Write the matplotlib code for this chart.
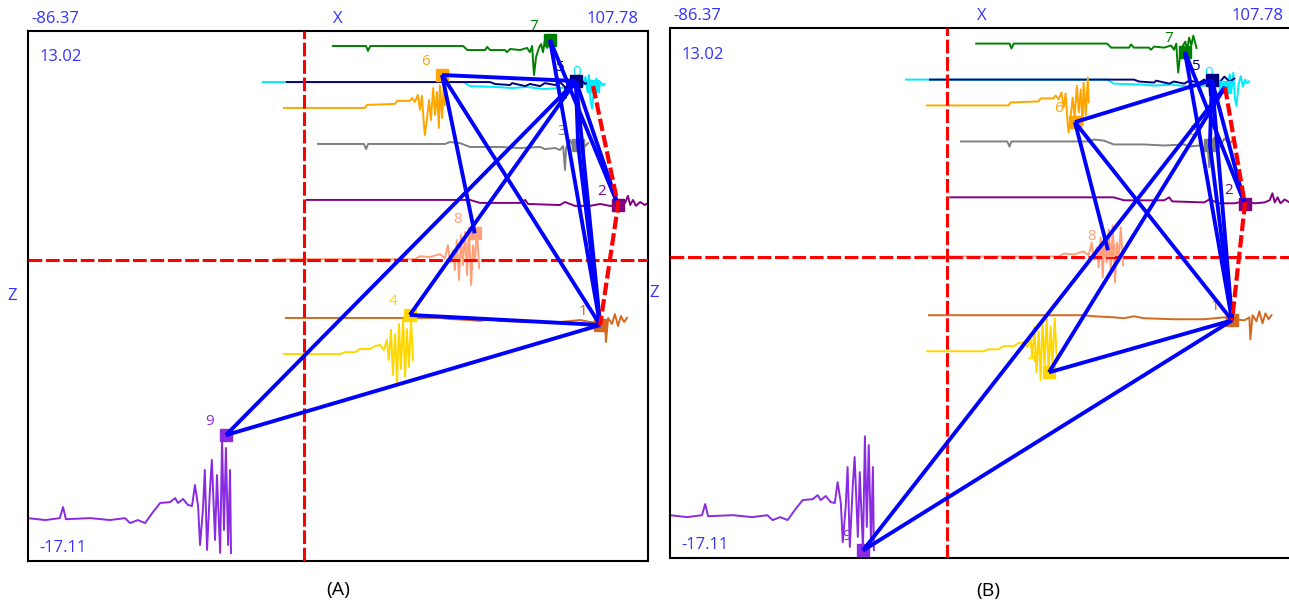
import numpy as np
import matplotlib
matplotlib.use('Agg')
import matplotlib.pyplot as plt

plt.rcParams['font.family'] = ['Open Sans', 'DejaVu Sans']

# axis limits shown as corner labels
X_MIN, X_MAX = -86.37, 107.78
Z_MIN, Z_MAX = -17.11, 13.02

# body colours, index = body id
colors = ['#00eaff', '#d2691e', '#800080', '#808080', '#ffd700',
          '#000080', '#ffa500', '#008000', '#ffa07a', '#8a2be2']

# trajectories (x, z)
t0_x = [-12.8, 50.0, 52.0, 60.0, 65.0, 70.0, 75.0, 80.0, 84.0, 87.5, 88.2, 88.8,
        89.3, 89.8, 90.3, 90.9, 91.6, 92.3, 93.0, 93.6, 94.2]
t0_z = [10.10, 10.10, 9.87, 9.82, 9.76, 9.82, 9.70, 9.76, 9.82, 9.93, 10.40, 9.60,
        10.50, 9.00, 8.60, 9.80, 10.30, 9.70, 10.10, 9.90, 10.00]

t1_x = [-5.6, 42.6, 45.8, 52.0, 55.2, 58.3, 61.4, 70.8, 80.2, 86.5, 89.6, 92.8,
        94.3, 94.6, 95.3, 96.5, 97.4, 98.4, 99.3, 100.3, 101.2]
t1_z = [-3.31, -3.31, -3.37, -3.43, -3.48, -3.37, -3.48, -3.54, -3.54, -3.43, -3.54, -3.60,
        -3.43, -4.68, -3.31, -3.65, -3.09, -3.77, -3.20, -3.54, -3.31]

t2_x = [1.0, 52.0, 55.2, 67.7, 69.3, 70.2, 80.2, 81.8, 84.9, 89.6, 92.8, 95.9,
        99.0, 100.6, 101.5, 102.2, 103.1, 104.0, 105.3, 106.8, 107.8]
t2_z = [3.40, 3.40, 3.23, 3.23, 3.40, 3.17, 3.11, 3.28, 3.06, 3.06, 3.17, 3.06,
        3.11, 3.23, 3.63, 3.11, 3.40, 3.06, 3.28, 3.11, 3.23]

t3_x = [4.4, 18.8, 19.5, 20.1, 44.2, 45.8, 48.9, 52.0, 61.4, 67.7, 74.0, 75.5,
        78.7, 80.2, 81.2, 81.8, 82.1, 83.4, 84.9, 86.5, 88.1, 89.0]
t3_z = [6.58, 6.58, 6.29, 6.58, 6.58, 6.69, 6.63, 6.41, 6.41, 6.35, 6.41, 6.29,
        6.35, 6.24, 6.46, 5.10, 6.35, 6.81, 6.24, 6.75, 6.46, 6.63]

t4_x = [-6.2, 11.4, 12.9, 16.1, 17.6, 20.8, 22.3, 23.9, 25.1, 26.0, 26.6, 27.3,
        27.9, 28.6, 29.2, 29.8, 30.4, 31.1, 31.7, 32.3, 32.9, 33.6, 34.2]
t4_z = [-5.36, -5.36, -5.25, -5.25, -5.07, -5.07, -4.90, -4.85, -5.13, -4.56, -5.70, -3.99,
        -6.55, -4.22, -7.01, -3.65, -6.21, -3.37, -6.67, -3.94, -6.10, -3.48, -5.70]

t5_x = [-5.3, 58.3, 59.9, 64.6, 65.2, 69.3, 70.8, 74.0, 75.5, 78.7, 80.2, 81.8,
        82.0, 82.4, 83.4, 84.9, 86.5, 88.1, 89.6]
t5_z = [10.10, 10.10, 9.99, 9.93, 10.04, 9.87, 9.99, 9.87, 10.04, 9.93, 10.10, 9.82,
        9.20, 9.90, 10.22, 9.93, 10.27, 9.99, 10.16]

t6_x = [-6.2, 19.2, 19.8, 28.6, 29.2, 33.2, 33.9, 34.8, 35.7, 36.4, 37.0, 37.6,
        37.9, 38.6, 39.2, 39.8, 40.5, 41.1, 41.7, 42.3, 42.6, 43.3, 43.9, 44.2]
t6_z = [8.63, 8.63, 8.80, 8.86, 9.03, 9.03, 9.20, 8.97, 9.37, 8.52, 9.31, 7.66,
        7.09, 8.06, 9.08, 7.94, 9.76, 8.23, 9.54, 7.49, 9.93, 8.06, 10.22, 8.80]

t7_x = [9.1, 19.5, 20.1, 20.8, 49.9, 51.2, 56.8, 57.4, 58.3, 63.0, 63.6, 64.6,
        67.7, 69.9, 70.8, 71.5, 71.8, 72.1, 72.7, 73.6, 74.3, 74.9, 75.5, 76.2,
        76.8, 77.4, 77.8]
t7_z = [12.15, 12.15, 11.87, 12.15, 12.15, 11.92, 11.92, 12.10, 11.92, 11.92, 11.80, 11.98,
        11.92, 12.04, 11.80, 12.15, 11.24, 10.50, 11.50, 12.04, 12.26, 11.80, 12.49, 12.04,
        12.60, 12.20, 11.90]

t8_x = [-8.7, 34.8, 36.4, 39.5, 42.6, 44.2, 45.1, 45.8, 46.7, 47.3, 47.9, 48.6,
        49.2, 49.8, 50.5, 51.1, 51.7, 52.4, 53.0, 53.6, 54.2, 54.9]
t8_z = [0.03, 0.03, 0.20, 0.15, 0.32, 0.09, 0.83, -0.15, 0.55, -0.58, 1.12, -1.15,
        1.40, -0.30, 1.57, -0.87, 1.80, -1.44, 0.83, -0.01, 1.69, -0.47]

t9_x = [-86.4, -81.0, -76.4, -75.4, -74.5, -66.9, -60.7, -56.0, -54.4, -52.0, -49.7, -47.5,
        -45.0, -41.9, -40.3, -39.4, -37.8, -36.3, -35.0, -34.1, -33.1, -32.5, -31.6, -31.0,
        -30.3, -29.4, -28.8, -27.8, -27.2, -26.2, -25.6, -25.0, -24.4, -23.7, -23.1, -22.8]
t9_z = [-14.69, -14.80, -14.69, -14.06, -14.75, -14.69, -14.80, -14.69, -14.97, -14.80, -14.97, -14.41,
        -13.83, -13.78, -13.55, -13.83, -13.60, -13.94, -14.00, -12.81, -14.00, -16.22, -14.23, -11.95,
        -16.50, -13.09, -11.38, -15.93, -12.24, -16.67, -10.20, -15.36, -10.70, -16.22, -11.95, -16.67]

traces_x = [t0_x, t1_x, t2_x, t3_x, t4_x, t5_x, t6_x, t7_x, t8_x, t9_x]
traces_z = [t0_z, t1_z, t2_z, t3_z, t4_z, t5_z, t6_z, t7_z, t8_z, t9_z]

# marker positions per panel, index = body id
a_mark_x = [90.6, 92.8, 98.4, 85.9, 33.2, 85.2, 43.3, 77.1, 53.5, -24.4]
a_mark_z = [9.87, -3.71, 3.11, 6.52, -3.14, 10.16, 10.50, 12.49, 1.50, -9.97]
b_mark_x = [86.7, 88.9, 92.9, 82.0, 31.8, 82.6, 39.9, 74.2, 50.2, -26.2]
b_mark_z = [9.68, -3.60, 3.01, 6.37, -6.56, 10.07, 7.68, 11.67, 0.39, -16.70]

# connections (blue) and red dashed path
a_edges = [(6, 5), (6, 8), (6, 1), (7, 2), (7, 1), (9, 5), (4, 5),
           (5, 3), (5, 2), (5, 1), (3, 1), (4, 1), (9, 1)]
b_edges = [(6, 5), (6, 8), (6, 1), (7, 2), (7, 1), (9, 0), (4, 0),
           (5, 3), (5, 2), (5, 1), (3, 1), (4, 1), (9, 1)]
red_path = [0, 2, 1]

TXT = '#3333ff'


def draw_panel(ax, mx, mz, edges):
    ax.set_xlim(X_MIN, X_MAX)
    ax.set_ylim(Z_MIN, Z_MAX)
    ax.set_xticks([]); ax.set_yticks([])
    for sp in ax.spines.values():
        sp.set_linewidth(1.5); sp.set_color('black')

    # labels sit under the traces so some get hidden, like the original
    for i in range(10):
        ax.annotate(str(i), (mx[i], mz[i]), xytext=(-12, 10), textcoords='offset points',
                    color=colors[i], fontsize=11, ha='center', va='center', zorder=1.5)

    for i in range(10):
        ax.plot(traces_x[i], traces_z[i], color=colors[i], lw=1.4, zorder=2)

    ax.axvline(0, color='red', lw=2.2, dashes=(4.5, 1.2), zorder=3)
    ax.axhline(0, color='red', lw=2.2, dashes=(4.5, 1.2), zorder=3)

    for i in range(10):
        ax.plot(mx[i], mz[i], 's', color=colors[i], ms=9, zorder=4)

    for a, b in edges:
        ax.plot([mx[a], mx[b]], [mz[a], mz[b]], color='blue', lw=2.8,
                solid_capstyle='butt', zorder=5)

    ax.plot([mx[k] for k in red_path], [mz[k] for k in red_path], color='red',
            lw=3.0, dashes=(3, 1), zorder=6)

    kw = dict(xycoords='axes fraction', textcoords='offset points', color=TXT, fontsize=12)
    ax.annotate(f'{X_MIN:.2f}', (0, 1), xytext=(2.5, 8.5), ha='left', va='center', **kw)
    ax.annotate('X', (0.5, 1), xytext=(0, 8.5), ha='center', va='center', **kw)
    ax.annotate(f'{X_MAX:.2f}', (1, 1), xytext=(-6.5, 8.5), ha='right', va='center', **kw)
    ax.annotate(f'{Z_MAX:.2f}', (0, 1), xytext=(8, -19), ha='left', va='center', **kw)
    ax.annotate(f'{Z_MIN:.2f}', (0, 0), xytext=(8, 9), ha='left', va='center', **kw)
    ax.annotate('Z', (0, 0.5), xytext=(-11.5, 0), ha='center', va='center', **kw)


fig = plt.figure(figsize=(12.89, 6.06), dpi=100)
ax_a = fig.add_axes([0.02172, 0.07475, 0.4810, 0.8746])
ax_b = fig.add_axes([0.5198, 0.0797, 0.4830, 0.8736])

draw_panel(ax_a, a_mark_x, a_mark_z, a_edges)
draw_panel(ax_b, b_mark_x, b_mark_z, b_edges)

fig.text(0.2622, 0.026, '(A)', fontsize=14, ha='center', va='center')
fig.text(0.7665, 0.025, '(B)', fontsize=14, ha='center', va='center')

fig.savefig('out.png', dpi=100)
